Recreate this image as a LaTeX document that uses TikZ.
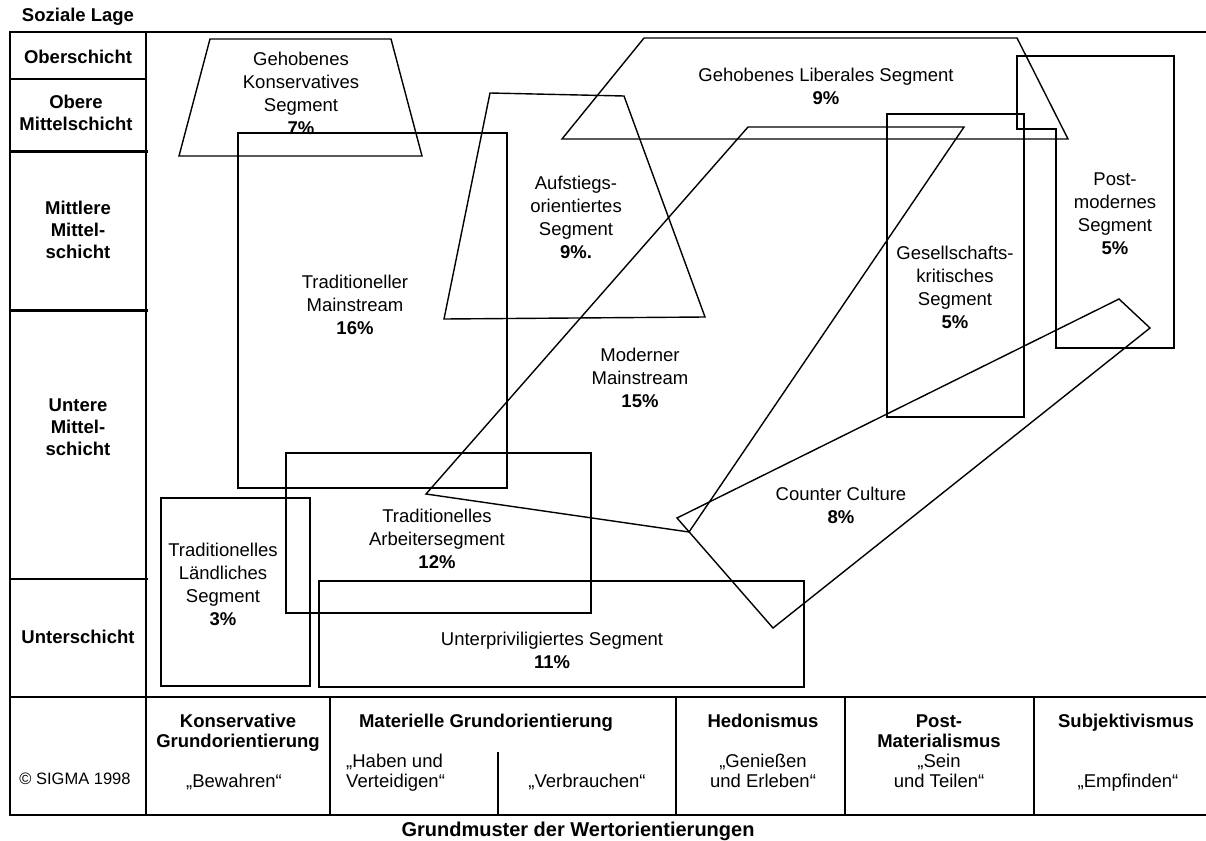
\documentclass[tikz,border=0pt]{standalone}
\usepackage{fontspec}
\setmainfont{Liberation Sans}
\begin{document}
\begin{tikzpicture}[x=1pt,y=-1pt,
  seg/.style={draw=black,line width=1.4pt,line join=miter},
  lbl/.style={align=center,inner sep=0pt,font=\fontsize{18.5}{23}\selectfont},
  side/.style={align=center,inner sep=0pt,font=\bfseries\fontsize{18.5}{22}\selectfont},
  tb/.style={inner sep=0pt,anchor=base,font=\fontsize{18.5}{20}\selectfont},
  tbb/.style={inner sep=0pt,anchor=base,font=\bfseries\fontsize{18.5}{20}\selectfont},
  gthin/.style={line width=1.5pt},
  gmid/.style={line width=2pt},
  gfat/.style={line width=3pt}]
\useasboundingbox (0,0) rectangle (1206,840);

% ---- frame of the social position column
\draw[gthin] (146,32) -- (1206,32);
\draw[gmid] (10,32) rectangle (146,697);
\draw[gthin] (10,79) -- (146,79);
\draw[gfat] (10,151) -- (148,151);
\draw[gfat] (10,310) -- (148,310);
\draw[gmid] (10,579) -- (148,579);

% ---- bottom table
\draw[line width=2.5pt] (10,697) -- (1206,697);
\draw[gmid] (10,697) -- (10,815) -- (1206,815);
\foreach \xx in {146,330,676,845,1034} \draw[gmid] (\xx,697) -- (\xx,815);
\draw[gmid] (498,752) -- (498,815);

% ---- segments
\draw[seg] (210,39) -- (391,39) -- (422,156) -- (179,156) -- cycle;
\draw[seg] (238,133) rectangle (507,488);
\draw[seg] (490,93) -- (624,96) -- (705,317) -- (444,319) -- cycle;
\draw[seg] (644,38) -- (1017,38) -- (1068,139) -- (562,139) -- cycle;
\draw[seg] (748,127) -- (964,127) -- (689,532) -- (426,494) -- cycle;
\draw[seg] (887,114) rectangle (1024,417);
\draw[seg] (1017,56) -- (1174,56) -- (1174,348) -- (1056,348) -- (1056,129) -- (1017,129) -- cycle;
\draw[seg] (1119,299) -- (1150,328) -- (773,628) -- (677,518) -- cycle;
\draw[seg] (286,453) rectangle (591,613);
\draw[seg] (161,498) rectangle (310,686);
\draw[seg] (319,581) rectangle (804,687);

% ---- segment labels
\node[lbl] (gk) at (301,93) {Gehobenes\\Konservatives\\Segment\\\textbf{7\%}};
\node[lbl] (tm) at (355,305) {Traditioneller\\Mainstream\\\textbf{16\%}};
\node[lbl] (au) at (576,217) {Aufstiegs-\\orientiertes\\Segment\\\textbf{9\%.}};
\node[lbl] (gl) at (826,86) {Gehobenes Liberales Segment\\\textbf{9\%}};
\node[lbl] (mm) at (640,378) {Moderner\\Mainstream\\\textbf{15\%}};
\node[lbl] (gs) at (955,287) {Gesellschafts-\\kritisches\\Segment\\\textbf{5\%}};
\node[lbl] (pm) at (1115,214) {Post-\\modernes\\Segment\\\textbf{5\%}};
\node[lbl] (cc) at (841,505) {Counter Culture\\\textbf{8\%}};
\node[lbl] (ta) at (437,539) {Traditionelles\\Arbeitersegment\\\textbf{12\%}};
\node[lbl] (tl) at (223,584) {Traditionelles\\Ländliches\\Segment\\\textbf{3\%}};
\node[lbl] (up) at (552,650) {Unterpriviligiertes Segment\\\textbf{11\%}};

% ---- side labels
\node[side] (sl) at (78,17) {Soziale Lage};
\node[side] (s1) at (78,57) {Oberschicht};
\node[side] (s2) at (76,113) {Obere\\Mittelschicht};
\node[side] (s3) at (78,230) {Mittlere\\Mittel-\\schicht};
\node[side] (s4) at (78,427) {Untere\\Mittel-\\schicht};
\node[side] (s5) at (78,637) {Unterschicht};

% ---- table texts
\node[tb,font=\fontsize{16.5}{18}\selectfont] (cp) at (75,784.5) {© SIGMA 1998};
\node[tbb] (k1) at (238,727.5) {Konservative};
\node[tbb] (k2) at (238,747.5) {Grundorientierung};
\node[tb] (k3) at (234,787.5) {„Bewahren“};
\node[tbb] (m1) at (486,727.5) {Materielle Grundorientierung};
\node[tb,anchor=base west] (m2) at (346,767.5) {„Haben und};
\node[tb,anchor=base west] (m3) at (346,787.5) {Verteidigen“};
\node[tb] (m4) at (587,787.5) {„Verbrauchen“};
\node[tbb] (h1) at (763,727.5) {Hedonismus};
\node[tb] (h2) at (763,767.5) {„Genießen};
\node[tb] (h3) at (763,787.5) {und Erleben“};
\node[tbb] (p1) at (939,727.5) {Post-};
\node[tbb] (p2) at (939,747.5) {Materialismus};
\node[tb] (p3) at (939,767.5) {„Sein};
\node[tb] (p4) at (939,787.5) {und Teilen“};
\node[tbb] (s1b) at (1126,727.5) {Subjektivismus};
\node[tb] (s2b) at (1128,787.5) {„Empfinden“};

\node[inner sep=0pt,anchor=base,font=\bfseries\fontsize{20}{22}\selectfont] (title) at (578,836) {Grundmuster der Wertorientierungen};
\end{tikzpicture}
\end{document}
